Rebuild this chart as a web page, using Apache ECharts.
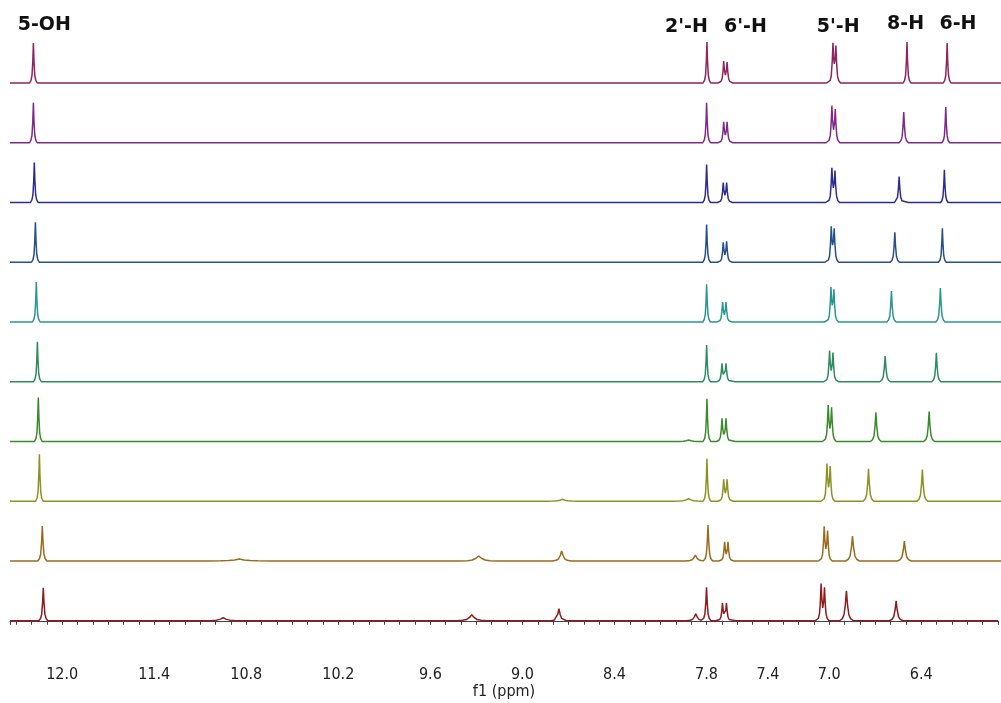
<!DOCTYPE html>
<html>
<head>
<meta charset="utf-8">
<style>
  html, body { margin: 0; padding: 0; background: #ffffff; }
  #chart { width: 1001px; height: 703px; }
</style>
<script src="https://cdn.jsdelivr.net/npm/echarts@6/dist/echarts.min.js"></script>
</head>
<body>
<div id="chart"></div>
<script>
// ---- data (ppm, intensity, half-width in ppm) ----
const xMin = 5.9;
const xMax = 12.34;
const tickLabels = [12.0, 11.4, 10.8, 10.2, 9.6, 9.0, 8.4, 7.8, 7.4, 7.0, 6.4];
const axisName = 'f1 (ppm)';

const peakLabels = ['5-OH', "2'-H", "6'-H", "5'-H", '8-H', '6-H'];
const peakLabelPpm = [12.117, 7.944, 7.561, 6.958, 6.52, 6.18];

const traceColors = ['#8f2460', '#7f2a88', '#2d2d8c', '#25508a', '#2a9690',
                     '#2e8c60', '#3a8a2c', '#8c9222', '#9a6b1e', '#8e1c1c'];

const trace1 = [[12.188, 40, 0.025], [7.811, 41, 0.025], [7.702, 21, 0.03], [7.680, 20, 0.03],
                [6.992, 38, 0.03], [6.973, 35, 0.03], [6.511, 41, 0.025], [6.250, 40, 0.025]];
const trace2 = [[12.188, 40, 0.025], [7.813, 40, 0.025], [7.702, 20, 0.03], [7.680, 20, 0.03],
                [6.999, 35.6, 0.03], [6.977, 32, 0.03], [6.532, 30.6, 0.03], [6.259, 35.6, 0.025]];
const trace3 = [[12.182, 40, 0.025], [7.813, 38, 0.025], [7.705, 19, 0.03], [7.683, 19, 0.03],
                [6.999, 33, 0.03], [6.979, 30, 0.03], [6.562, 26, 0.03], [6.268, 32.7, 0.025]];
const trace4 = [[12.175, 40, 0.025], [7.813, 37.7, 0.025], [7.705, 19, 0.03], [7.683, 20, 0.03],
                [7.003, 34, 0.03], [6.984, 31.7, 0.03], [6.590, 30, 0.03], [6.281, 34, 0.025]];
const trace5 = [[12.169, 40, 0.025], [7.813, 37.7, 0.025], [7.709, 19, 0.03], [7.687, 19, 0.03],
                [7.005, 33, 0.03], [6.986, 30.7, 0.03], [6.612, 31, 0.03], [6.294, 34, 0.03]];
const trace6 = [[12.162, 40, 0.025], [7.813, 36.7, 0.025], [7.713, 18, 0.03], [7.687, 18, 0.03],
                [7.014, 30, 0.03], [6.992, 27.7, 0.03], [6.653, 25.7, 0.035], [6.320, 29, 0.03]];
const trace7 = [[12.156, 44, 0.025], [7.930, 1.5, 0.1], [7.811, 42.7, 0.025], [7.713, 22.7, 0.03],
                [7.687, 22.7, 0.03], [7.023, 35, 0.03], [7.001, 32.7, 0.03], [6.713, 29.3, 0.035],
                [6.367, 30, 0.035]];
const trace8 = [[12.149, 47, 0.025], [8.750, 2, 0.1], [7.930, 2.5, 0.1], [7.811, 42.4, 0.025],
                [7.702, 21, 0.03], [7.680, 21, 0.03], [7.031, 36, 0.03], [7.010, 33.4, 0.03],
                [6.761, 32.4, 0.035], [6.411, 31.7, 0.035]];
const trace9 = [[12.130, 35, 0.03], [10.85, 2, 0.2], [9.294, 5, 0.12], [8.755, 10, 0.06],
                [7.886, 6, 0.06], [7.804, 36, 0.03], [7.696, 18.3, 0.03], [7.674, 18.3, 0.03],
                [7.049, 33.3, 0.03], [7.027, 29, 0.03], [6.865, 25, 0.045], [6.528, 20, 0.045]];
const trace10 = [[12.123, 33, 0.03], [10.95, 3, 0.12], [9.330, 6, 0.1], [8.762, 12, 0.05],
                 [7.870, 7, 0.06], [7.800, 33.4, 0.03], [7.696, 17.4, 0.03], [7.670, 17.4, 0.03],
                 [7.053, 35.7, 0.03], [7.031, 31.7, 0.03], [6.888, 30, 0.045], [6.564, 20, 0.045]];

const traces = [trace1, trace2, trace3, trace4, trace5, trace6, trace7, trace8, trace9, trace10];

// ---- peak outline: each listed peak drawn as a narrow piecewise-linear spike ----
const shapeU = [0, 0.15, 0.35, 0.6, 1];
const shapeH = [1, 0.55, 0.2, 0.07, 0];
function spike(d, w) {
  const u = Math.abs(d) / w;
  if (u >= 1) return 0;
  for (let k = 0; k < shapeU.length - 1; k++) {
    if (u <= shapeU[k + 1]) {
      const t = (u - shapeU[k]) / (shapeU[k + 1] - shapeU[k]);
      return shapeH[k] + t * (shapeH[k + 1] - shapeH[k]);
    }
  }
  return 0;
}
function outline(peaks) {
  const xs = [xMin, xMax];
  peaks.forEach(p => {
    shapeU.forEach(u => { xs.push(p[0] - u * p[2]); xs.push(p[0] + u * p[2]); });
    xs.push(p[0] - 2 * p[2]); xs.push(p[0] + 2 * p[2]);
  });
  const uniq = Array.from(new Set(xs.map(v => +v.toFixed(5))))
    .filter(v => v >= xMin && v <= xMax).sort((a, b) => b - a);
  return uniq.map(x => {
    let y = 0;
    peaks.forEach(p => { y += p[1] * spike(x - p[0], p[2]); });
    return [x, y];
  });
}

// ---- chart ----
const chart = echarts.init(document.getElementById('chart'), null, { renderer: 'canvas' });
const n = traces.length;
const axisFont = 'DejaVu Sans Condensed, DejaVu Sans';
const grids = [], xAxes = [], yAxes = [], series = [];
for (let i = 0; i < n; i++) {
  grids.push({ left: 10, right: 0, top: 23 + i * 59.75, height: 60 });
  const last = i === n - 1;
  xAxes.push({
    gridIndex: i, type: 'value', min: xMin, max: xMax, inverse: true, interval: 0.1,
    show: last,
    offset: last ? 33 : 0,
    name: last ? axisName : '',
    nameLocation: 'middle', nameGap: 16,
    nameTextStyle: { fontFamily: axisFont, fontSize: 16, color: '#222' },
    axisLine: { show: true, lineStyle: { color: '#444', width: 1 } },
    axisTick: { show: true, length: 4, inside: false, lineStyle: { color: '#444', width: 1 } },
    splitLine: { show: false },
    axisLabel: {
      show: true, margin: 13, fontSize: 16, color: '#222', fontFamily: axisFont,
      showMinLabel: true, showMaxLabel: true,
      formatter: v => {
        const r = Math.round(v * 10) / 10;
        return tickLabels.some(t => Math.abs(t - r) < 1e-6) ? r.toFixed(1) : '';
      }
    }
  });
  yAxes.push({ gridIndex: i, type: 'value', min: 0, max: 60, show: false });
  series.push({
    type: 'line', xAxisIndex: i, yAxisIndex: i, data: outline(traces[i]),
    showSymbol: false, symbol: 'none', clip: false, silent: true,
    lineStyle: { color: traceColors[i], width: 1.5 }
  });
}

chart.setOption({
  backgroundColor: '#ffffff',
  animation: false,
  grid: grids, xAxis: xAxes, yAxis: yAxes, series: series
});

const labelY = [25, 27, 27, 27, 24.5, 24.5];
chart.setOption({
  graphic: peakLabels.map((t, k) => ({
    type: 'text',
    x: chart.convertToPixel({ xAxisIndex: 0 }, peakLabelPpm[k]),
    y: labelY[k],
    style: {
      text: t, fill: '#111', align: 'center', verticalAlign: 'middle',
      font: 'bold 19px "DejaVu Sans"'
    },
    silent: true
  }))
});
</script>
</body>
</html>
